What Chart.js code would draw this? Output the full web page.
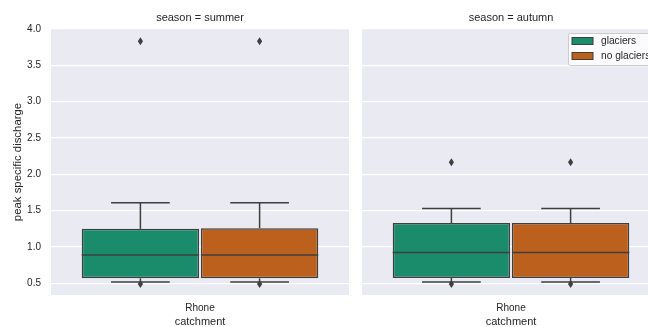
<!DOCTYPE html>
<html><head><meta charset="utf-8">
<script src="https://cdn.jsdelivr.net/npm/chart.js@4/dist/chart.umd.min.js"></script>
<style>
html,body{margin:0;padding:0;background:#fff;overflow:hidden;width:648px;height:327px}
#wrap{position:relative;width:680px;height:327px}
canvas{position:absolute;top:0}
#c1{left:0}
#c2{left:350px}
</style></head>
<body><div id="wrap"><canvas id="c1" width="355" height="327"></canvas><canvas id="c2" width="320" height="327"></canvas></div>
<script>
// ---- data ----
const categories = ['Rhone'];
const hues = ['glaciers', 'no glaciers'];
const seasons = ['summer', 'autumn'];
const yTicks = [0.5, 1.0, 1.5, 2.0, 2.5, 3.0, 3.5, 4.0];
// each array: [glaciers, no glaciers]
const summerLow = [0.52, 0.52];
const summerQ1 = [0.57, 0.57];
const summerMedian = [0.89, 0.89];
const summerQ3 = [1.25, 1.26];
const summerHigh = [1.61, 1.61];
const summerOutliers = [[0.49, 3.83], [0.49, 3.83]];
const autumnLow = [0.52, 0.52];
const autumnQ1 = [0.575, 0.575];
const autumnMedian = [0.925, 0.925];
const autumnQ3 = [1.33, 1.33];
const autumnHigh = [1.53, 1.53];
const autumnOutliers = [[0.49, 2.165], [0.49, 2.165]];

// ---- style ----
const fillColors = ['rgb(26,140,107)', 'rgb(188,97,29)'];
const edge = '#3f3f3f';
const textColor = '#262626';
const FONT = "'Liberation Sans', Arial, sans-serif";
Chart.defaults.font.family = FONT;
Chart.defaults.color = textColor;

const bgPlugin = {
  id: 'bg',
  beforeDraw(chart) {
    const {ctx, chartArea: a} = chart;
    ctx.save();
    ctx.fillStyle = '#eaeaf2';
    ctx.fillRect(a.left, a.top, a.right - a.left, a.bottom - a.top);
    ctx.restore();
  }
};

function makeBoxPlugin(low, q1, med, q3, high, outliers, season) {
  return {
    id: 'boxstats',
    afterDatasetsDraw(chart) {
      const ctx = chart.ctx, ys = chart.scales.y;
      ctx.save();
      ctx.strokeStyle = edge;
      ctx.fillStyle = edge;
      ctx.lineWidth = 1.5;
      chart.data.datasets.forEach((ds, i) => {
        const meta = chart.getDatasetMeta(i);
        meta.data.forEach((el) => {
          const p = el.getProps(['x', 'width'], true);
          const x = p.x, w = p.width;
          const line = (x1, y1, x2, y2) => { ctx.beginPath(); ctx.moveTo(x1, y1); ctx.lineTo(x2, y2); ctx.stroke(); };
          // whiskers
          line(x, ys.getPixelForValue(q3[i]), x, ys.getPixelForValue(high[i]));
          line(x, ys.getPixelForValue(q1[i]), x, ys.getPixelForValue(low[i]));
          // caps
          line(x - w / 4, ys.getPixelForValue(high[i]), x + w / 4, ys.getPixelForValue(high[i]));
          line(x - w / 4, ys.getPixelForValue(low[i]), x + w / 4, ys.getPixelForValue(low[i]));
          // median
          line(x - w / 2, ys.getPixelForValue(med[i]), x + w / 2, ys.getPixelForValue(med[i]));
          // outliers
          outliers[i].forEach(v => {
            const y = ys.getPixelForValue(v);
            ctx.beginPath();
            ctx.moveTo(x, y - 4); ctx.lineTo(x + 2.6, y); ctx.lineTo(x, y + 4); ctx.lineTo(x - 2.6, y);
            ctx.closePath(); ctx.fill();
          });
        });
      });
      // facet title
      const a = chart.chartArea;
      ctx.font = '11px ' + FONT;
      ctx.fillStyle = textColor;
      ctx.textAlign = 'center';
      ctx.textBaseline = 'middle';
      ctx.fillText('season = ' + season, (a.left + a.right) / 2, 18);
      ctx.restore();
    }
  };
}

const legendPlugin = {
  id: 'customLegend',
  afterDraw(chart) {
    const ctx = chart.ctx;
    ctx.save();
    const fx = 218, fy = 33, fw = 90, fh = 32;
    ctx.beginPath();
    ctx.roundRect(fx + 0.5, fy + 0.5, fw, fh, 2);
    ctx.fillStyle = 'rgba(255,255,255,0.8)';
    ctx.fill();
    ctx.strokeStyle = '#cccccc';
    ctx.lineWidth = 1;
    ctx.stroke();
    chart.data.datasets.forEach((ds, i) => {
      const py = 37.5 + i * 15;
      ctx.fillStyle = ds.backgroundColor;
      ctx.fillRect(222, py, 21, 7);
      ctx.strokeStyle = edge;
      ctx.lineWidth = 1;
      ctx.strokeRect(222, py, 21, 7);
      ctx.fillStyle = textColor;
      ctx.font = '10.2px ' + FONT;
      ctx.textAlign = 'left';
      ctx.textBaseline = 'middle';
      ctx.fillText(ds.label, 251, py + 3.5);
    });
    ctx.restore();
  }
};

function buildChart(id, q1, q3, plugins, showY, padRight, yWidth) {
  return new Chart(document.getElementById(id), {
    type: 'bar',
    data: {
      labels: categories,
      datasets: hues.map((h, i) => ({
        label: h,
        data: [[q1[i], q3[i]]],
        backgroundColor: fillColors[i],
        borderColor: edge,
        borderWidth: 1.5,
        borderSkipped: false,
        categoryPercentage: 0.8,
        barPercentage: 0.985
      }))
    },
    options: {
      responsive: false,
      animation: false,
      devicePixelRatio: 1,
      layout: {padding: {left: 0, right: padRight, top: 29, bottom: 0}},
      plugins: {legend: {display: false}, tooltip: {enabled: false}, title: {display: false}},
      scales: {
        x: {
          grid: {display: false, drawTicks: false},
          border: {display: false},
          ticks: {font: {size: 10}, color: textColor, padding: 7},
          title: {display: true, text: 'catchment', font: {size: 11, lineHeight: 1}, color: textColor, padding: 0},
          afterFit(s) { s.height = 32; }
        },
        y: {
          min: 0.34,
          max: 4.0,
          grid: {color: '#ffffff', lineWidth: 1.2, drawTicks: false},
          border: {display: false},
          ticks: {display: showY, font: {size: 10}, color: textColor, padding: 10, callback: v => Number(v).toFixed(1)},
          afterBuildTicks(s) { s.ticks = yTicks.map(v => ({value: v})); },
          title: {display: showY, text: 'peak specific discharge', font: {size: 11.4, lineHeight: 1}, color: textColor, padding: {top: 12, bottom: 0}},
          afterFit(s) { s.width = yWidth; }
        }
      }
    },
    plugins: plugins
  });
}

buildChart('c1', summerQ1, summerQ3,
  [bgPlugin, makeBoxPlugin(summerLow, summerQ1, summerMedian, summerQ3, summerHigh, summerOutliers, seasons[0])],
  true, 6, 51);
buildChart('c2', autumnQ1, autumnQ3,
  [bgPlugin, makeBoxPlugin(autumnLow, autumnQ1, autumnMedian, autumnQ3, autumnHigh, autumnOutliers, seasons[1]), legendPlugin],
  false, 10, 12);
</script>
</body></html>
